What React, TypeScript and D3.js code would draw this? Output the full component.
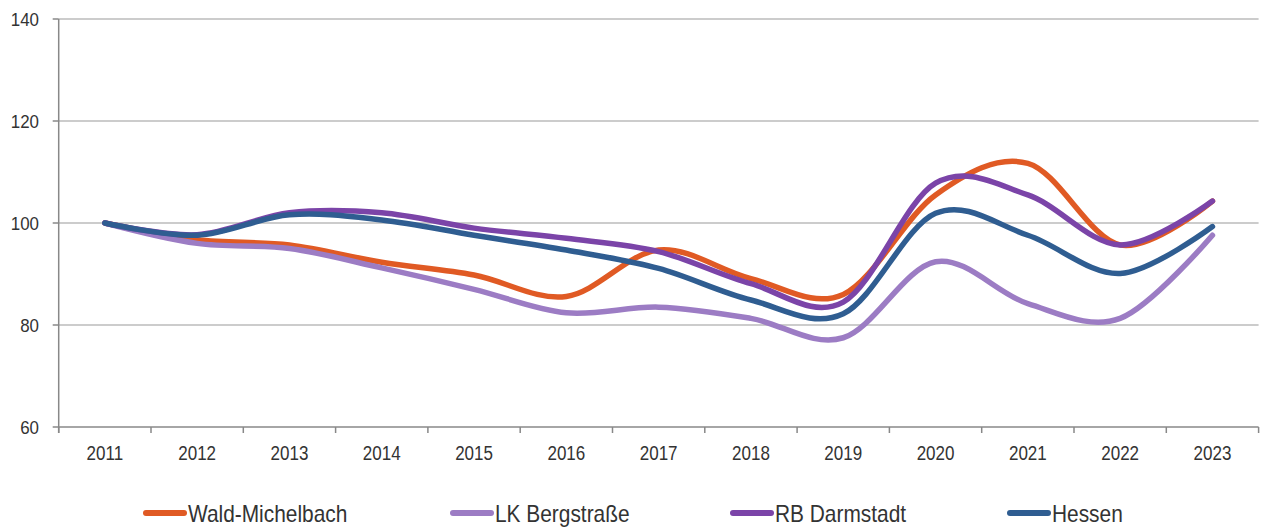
import React from "react";
import * as d3 from "d3";

const years = ["2011","2012","2013","2014","2015","2016","2017","2018","2019","2020","2021","2022","2023"];
const waldMichelbach = [100, 96.7, 95.7, 92.3, 89.8, 85.6, 94.7, 89.1, 86.0, 105.5, 111.7, 95.7, 104.3];
const lkBergstrasse = [100, 96.0, 95.0, 91.2, 87.0, 82.4, 83.5, 81.3, 77.5, 92.4, 84.2, 81.3, 97.6];
const rbDarmstadt = [100, 97.7, 102.0, 102.0, 99.0, 97.0, 94.4, 88.1, 84.5, 107.8, 105.5, 95.7, 104.3];
const hessen = [100, 97.6, 101.6, 100.6, 97.6, 94.7, 91.1, 84.9, 82.2, 101.9, 97.6, 90.1, 99.3];
const yTicks = [60, 80, 100, 120, 140];

const seriesNames = ["Wald-Michelbach", "LK Bergstraße", "RB Darmstadt", "Hessen"];
const seriesValues = [waldMichelbach, lkBergstrasse, rbDarmstadt, hessen];
const seriesColors = ["#E05A24", "#9C7CC4", "#7B44A8", "#2F5D91"];

const W = 1264, H = 527;
const plotL = 58.7, plotR = 1258.6, plotT = 19, plotB = 427;
const legendX = [143, 450, 730, 1007];
const FONT = "'Liberation Sans', Arial, sans-serif";

export default function App() {
  const x = d3.scaleBand<string>().domain(years).range([plotL, plotR]);
  const y = d3.scaleLinear().domain([60, 140]).range([plotB, plotT]);
  const line = d3
    .line<number>()
    .x((_, i) => (x(years[i]) as number) + x.bandwidth() / 2)
    .y((d) => y(d))
    .curve(d3.curveCatmullRom.alpha(0));

  const boundaries = years.map((yr) => x(yr) as number).concat([plotR]);

  return (
    <svg width={W} height={H} style={{ position: "absolute", left: 0, top: 0, background: "#fff" }}>
      <rect width={W} height={H} fill="#fff" />
      {yTicks.filter((t) => t !== 60).map((t) => (
        <line key={t} x1={plotL} x2={plotR} y1={y(t)} y2={y(t)} stroke="#9a9a9a" strokeWidth={1.2} />
      ))}
      {/* axes */}
      <line x1={plotL} x2={plotL} y1={plotT} y2={plotB + 6} stroke="#888" strokeWidth={1.5} />
      <line x1={plotL} x2={plotR} y1={plotB} y2={plotB} stroke="#888" strokeWidth={1.5} />
      {yTicks.map((t) => (
        <g key={t}>
          <line x1={plotL - 6} x2={plotL} y1={y(t)} y2={y(t)} stroke="#888" strokeWidth={1.5} />
          <text
            transform={`translate(39,${y(t) + 6.5}) scale(0.94,1)`}
            textAnchor="end"
            fontFamily={FONT}
            fontSize={18}
            fill="#333"
          >
            {t}
          </text>
        </g>
      ))}
      {boundaries.map((b, i) => (
        <line key={i} x1={b} x2={b} y1={plotB} y2={plotB + 6} stroke="#888" strokeWidth={1.5} />
      ))}
      {years.map((yr) => (
        <text
          key={yr}
          transform={`translate(${(x(yr) as number) + x.bandwidth() / 2},460) scale(0.83,1)`}
          textAnchor="middle"
          fontFamily={FONT}
          fontSize={20.5}
          fill="#333"
        >
          {yr}
        </text>
      ))}
      {seriesValues.map((vals, i) => (
        <path
          key={seriesNames[i]}
          d={line(vals) || ""}
          fill="none"
          stroke={seriesColors[i]}
          strokeWidth={5.5}
          strokeLinecap="round"
          strokeLinejoin="round"
        />
      ))}
      {seriesNames.map((name, i) => (
        <g key={name}>
          <line
            x1={legendX[i] + 3}
            x2={legendX[i] + 41}
            y1={513}
            y2={513}
            stroke={seriesColors[i]}
            strokeWidth={6}
            strokeLinecap="round"
          />
          <text
            transform={`translate(${legendX[i] + 45},521.5) scale(0.87,1)`}
            fontFamily={FONT}
            fontSize={24}
            fill="#333"
          >
            {name}
          </text>
        </g>
      ))}
    </svg>
  );
}
